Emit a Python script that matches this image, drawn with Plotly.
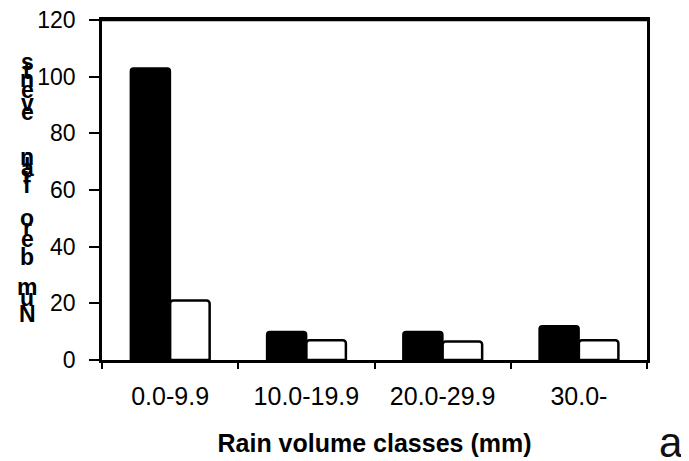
import plotly.graph_objects as go

categories = ["0.0-9.9", "10.0-19.9", "20.0-29.9", "30.0-"]
series_black = [103, 10, 10, 12]
series_white = [21, 7, 6.5, 7]
y_ticks = [0, 20, 40, 60, 80, 100, 120]

y_title = "Number of rain events"
x_title = "Rain volume classes (mm)"
panel_label = "a"

# pixel centres (from top of window) of each stacked title character, bottom -> top
char_px = [314, 298, 287, 257, 239, 228, None, 218, 185, None,
           176, 168, 162, 157, None, 112, 103, 90, 79, 71, 62]

OFF = 8  # default page body margin
W, H = 689 - OFF, 461 - OFF
ML, MR, MT, MB = 102 - OFF, 42, 20 - OFF, 101
FONT = "Liberation Sans, Arial, sans-serif"

fig = go.Figure()
fig.add_trace(go.Bar(x=categories, y=series_black, marker=dict(color="black", line=dict(color="black", width=2))))
fig.add_trace(go.Bar(x=categories, y=series_white, marker=dict(color="white", line=dict(color="black", width=2.5))))

fig.update_layout(
    width=W, height=H,
    margin=dict(l=ML, r=MR, t=MT, b=MB, pad=0),
    paper_bgcolor="white", plot_bgcolor="white",
    showlegend=False,
    barmode="group", bargap=0.42, bargroupgap=0,
    barcornerradius=3,
    font=dict(family=FONT, color="black"),
)
fig.update_xaxes(
    type="category", showline=True, linecolor="black", linewidth=2.5, mirror=True,
    ticks="outside", tickson="boundaries", ticklen=6, tickwidth=2, tickcolor="black",
    tickfont=dict(size=25, family=FONT), showgrid=False, ticklabelstandoff=12,
    automargin=False, ticklabeloverflow="allow",
    title=dict(text="<b>" + x_title + "</b>", font=dict(size=25, family=FONT), standoff=26),
)
fig.update_yaxes(
    range=[0, 120], tickvals=y_ticks, showline=True, linecolor="black", linewidth=2.5, mirror=True,
    ticks="outside", ticklen=10, tickwidth=2, tickcolor="black", automargin=False,
    ticklabeloverflow="allow",
    tickfont=dict(size=23, family=FONT), showgrid=False, zeroline=False, ticklabelstandoff=9,
)

# top frame line (plot-area border)
fig.add_shape(type="line", xref="paper", yref="paper", x0=0, x1=1, y0=1, y1=1,
              line=dict(color="black", width=2.5), layer="above")

pw = W - ML - MR
ph = H - MT - MB
for ch, py in zip(y_title, char_px):
    if py is None or ch == " ":
        continue
    fig.add_annotation(
        text="<b>" + ch + "</b>", xref="paper", yref="paper",
        x=(27 - OFF - ML) / pw, y=(H - MB - (py - OFF)) / ph, xanchor="center", yanchor="middle",
        showarrow=False, font=dict(size=23, family=FONT, color="black"),
    )

fig.add_annotation(
    text=panel_label, xref="paper", yref="paper",
    x=(671 - OFF - ML) / pw, y=(H - MB - (442 - OFF)) / ph, xanchor="center", yanchor="middle",
    showarrow=False, font=dict(size=42, family=FONT, color="#111111"),
)

fig.write_html("out.html")
